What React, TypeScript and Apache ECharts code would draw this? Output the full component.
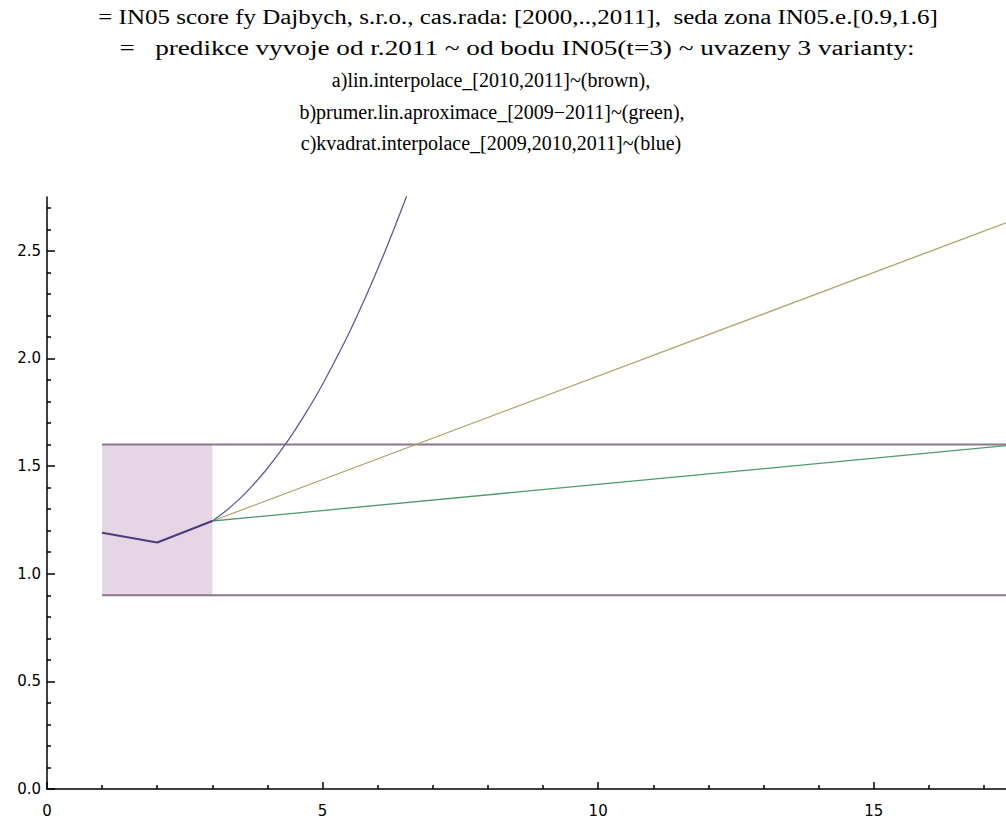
import React, { useEffect, useRef } from "react";
import * as echarts from "echarts";

// ---- data ----
const historyT = [1, 2, 3];
const historyIN05 = [1.19, 1.145, 1.245];

// a) linear interpolation 2010-2011 (brown)
const brownT = [3, 17.4];
const brownV = [1.245, 2.63];

// b) average linear approximation 2009-2011 (green)
const greenT = [3, 17.4];
const greenV = [1.245, 1.595];

// c) quadratic interpolation 2009-2011 (blue)
const blueT = [3, 3.25, 3.5, 3.75, 4, 4.25, 4.5, 4.75, 5, 5.5, 6, 6.5, 7];
const blueV = [1.245, 1.293, 1.349, 1.415, 1.49, 1.574, 1.667, 1.769, 1.88, 2.129, 2.415, 2.737, 3.095];

// grey zone IN05 in [0.9, 1.6]
const zoneLow = 0.9;
const zoneHigh = 1.6;
const zoneStart = 1;
const zoneEnd = 17.4;
const historyStart = 1;
const historyEnd = 3;

// axes
const xMin = 0;
const xMax = 17.4;
const yMin = 0;
const yMax = 2.75;
const xMajorTicks = [0, 5, 10, 15];
const xMinorTicks = [1, 2, 3, 4, 6, 7, 8, 9, 11, 12, 13, 14, 16, 17];
const yMajorTicks = [0, 0.5, 1.0, 1.5, 2.0, 2.5];
const yMinorTicks = [
  0.1, 0.2, 0.3, 0.4, 0.6, 0.7, 0.8, 0.9, 1.1, 1.2, 1.3, 1.4, 1.6, 1.7, 1.8,
  1.9, 2.1, 2.2, 2.3, 2.4, 2.6, 2.7,
];

const titleLines = [
  "= IN05 score fy Dajbych, s.r.o., cas.rada: [2000,..,2011],  seda zona IN05.e.[0.9,1.6]",
  "=   predikce vyvoje od r.2011 ~ od bodu IN05(t=3) ~ uvazeny 3 varianty:",
  "a)lin.interpolace_[2010,2011]~(brown),",
  "b)prumer.lin.aproximace_[2009\u22122011]~(green),",
  "c)kvadrat.interpolace_[2009,2010,2011]~(blue)",
];

const pairs = (xs: number[], ys: number[]) => xs.map((x, i) => [x, ys[i]]);

export default function App() {
  const ref = useRef<HTMLDivElement>(null);

  useEffect(() => {
    if (!ref.current) return;
    const chart = echarts.init(ref.current, null, { renderer: "svg" });

    const titleX = [518, 517, 491, 492, 491];
    const titleY = [17, 48, 80, 112, 143];
    const titleScaleX = [1.25, 1.36, 1, 1, 1];

    const axisLineStyle = { color: "#000", width: 1.5 };
    const labelStyle = {
      color: "#000",
      fontFamily: "DejaVu Sans",
      fontSize: 15,
    };

    chart.setOption({
      animation: false,
      backgroundColor: "#fff",
      grid: { left: 47, right: 0, top: 197, bottom: 23, containLabel: false },
      graphic: titleLines.map((t, i) => ({
        type: "text",
        x: titleX[i],
        y: titleY[i],
        scaleX: titleScaleX[i],
        style: {
          text: t,
          fill: "#000",
          font: '20px "Liberation Serif"',
          textAlign: "center",
          textVerticalAlign: "middle",
        },
      })),
      xAxis: [
        {
          type: "value",
          min: xMin,
          max: xMax,
          axisLine: { show: true, onZero: false, lineStyle: axisLineStyle },
          axisTick: {
            show: true,
            inside: true,
            length: 7,
            customValues: xMajorTicks,
            lineStyle: { color: "#000", width: 1.5 },
          },
          axisLabel: {
            ...labelStyle,
            margin: 14,
            customValues: xMajorTicks,
            formatter: (v: number) => String(v),
          },
          splitLine: { show: false },
        },
        {
          type: "value",
          min: xMin,
          max: xMax,
          position: "bottom",
          axisLine: { show: false },
          axisTick: {
            show: true,
            inside: true,
            length: 4,
            customValues: xMinorTicks,
            lineStyle: { color: "#000", width: 1.5 },
          },
          axisLabel: { show: false },
          splitLine: { show: false },
        },
      ],
      yAxis: [
        {
          type: "value",
          min: yMin,
          max: yMax,
          axisLine: { show: true, onZero: false, lineStyle: axisLineStyle },
          axisTick: {
            show: true,
            inside: true,
            length: 8,
            customValues: yMajorTicks,
            lineStyle: { color: "#000", width: 1.5 },
          },
          axisLabel: {
            ...labelStyle,
            margin: 6,
            customValues: yMajorTicks,
            formatter: (v: number) => v.toFixed(1),
          },
          splitLine: { show: false },
        },
        {
          type: "value",
          min: yMin,
          max: yMax,
          position: "left",
          axisLine: { show: false },
          axisTick: {
            show: true,
            inside: true,
            length: 4,
            customValues: yMinorTicks,
            lineStyle: { color: "#000", width: 1.5 },
          },
          axisLabel: { show: false },
          splitLine: { show: false },
        },
      ],
      series: [
        {
          type: "line",
          name: "zoneLow",
          data: [
            [zoneStart, zoneLow],
            [zoneEnd, zoneLow],
          ],
          symbol: "none",
          lineStyle: { color: "#8a7890", width: 2 },
          markArea: {
            silent: true,
            itemStyle: { color: "#e6d5e4" },
            data: [
              [
                { xAxis: historyStart, yAxis: zoneLow },
                { xAxis: historyEnd, yAxis: zoneHigh },
              ],
            ],
          },
          z: 2,
        },
        {
          type: "line",
          name: "zoneHigh",
          data: [
            [zoneStart, zoneHigh],
            [zoneEnd, zoneHigh],
          ],
          symbol: "none",
          lineStyle: { color: "#8a7890", width: 2 },
          z: 2,
        },
        {
          type: "line",
          name: "brown",
          data: pairs(brownT, brownV),
          symbol: "none",
          lineStyle: { color: "#b3a36a", width: 1.3 },
          z: 3,
        },
        {
          type: "line",
          name: "green",
          data: pairs(greenT, greenV),
          symbol: "none",
          lineStyle: { color: "#4e9a6e", width: 1.3 },
          z: 3,
        },
        {
          type: "line",
          name: "blue",
          data: pairs(blueT, blueV),
          symbol: "none",
          smooth: 0.3,
          clip: true,
          lineStyle: { color: "#5c5c98", width: 1.3 },
          z: 3,
        },
        {
          type: "line",
          name: "IN05",
          data: pairs(historyT, historyIN05),
          symbol: "none",
          lineStyle: { color: "#4a3c7c", width: 2 },
          z: 4,
        },
      ],
    });

    return () => chart.dispose();
  }, []);

  return (
    <div
      ref={ref}
      style={{ position: "absolute", left: 0, top: 0, width: 1006, height: 818 }}
    />
  );
}
